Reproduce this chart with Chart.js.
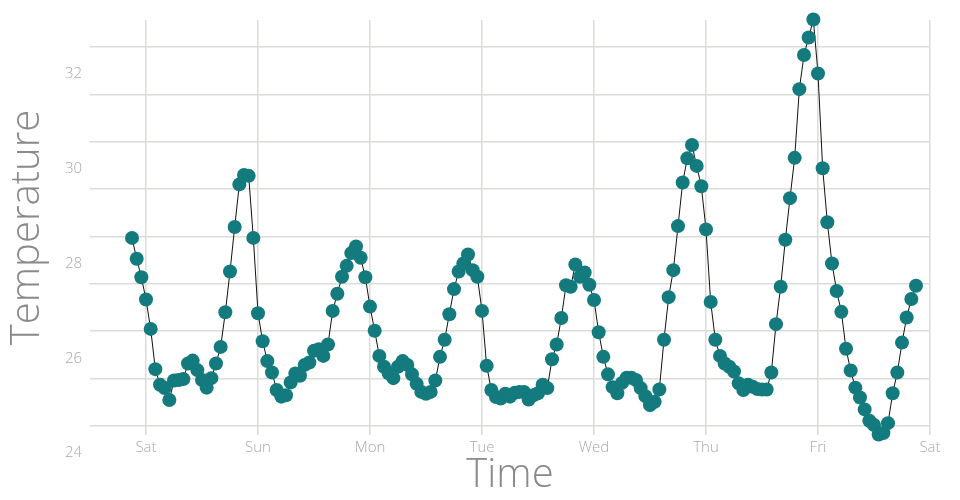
<!DOCTYPE html>
<html>
<head>
<meta charset="utf-8">
<script src="https://cdn.jsdelivr.net/npm/chart.js@4"></script>
<style>
  html, body { margin: 0; padding: 0; background: #fff; }
  #wrap { width: 960px; height: 500px; }
</style>
</head>
<body>
<div id="wrap"><canvas id="chart" width="960" height="500"></canvas></div>
<script>
// hourly readings, first one is 3 hours before Saturday 00:00
const FIRST_HOUR = -3;
const TEMPS = [
  27.97, 27.53, 27.14,
  26.67, 26.05, 25.20, 24.87, 24.80, 24.55, 24.96, 24.97, 24.99, 25.32, 25.38, 25.18,
  24.97, 24.81, 25.01, 25.32, 25.67, 26.40, 27.26, 28.20, 29.10, 29.30, 29.28, 27.97,
  26.38, 25.79, 25.37, 25.13, 24.76, 24.62, 24.65, 24.92, 25.11, 25.06, 25.29, 25.34,
  25.59, 25.62, 25.48, 25.72, 26.43, 26.79, 27.15, 27.38, 27.65, 27.79, 27.55, 27.14,
  26.52, 26.01, 25.48, 25.25, 25.11, 25.01, 25.25, 25.37, 25.29, 25.09, 24.89, 24.72,
  24.68, 24.72, 24.96, 25.46, 25.82, 26.36, 26.89, 27.26, 27.43, 27.62, 27.29, 27.15,
  26.43, 25.27, 24.76, 24.61, 24.58, 24.68, 24.62, 24.70, 24.72, 24.72, 24.56, 24.65,
  24.69, 24.87, 24.80, 25.41, 25.72, 26.28, 26.97, 26.94, 27.41, 27.15, 27.24, 26.98,
  26.66, 25.98, 25.46, 25.09, 24.82, 24.69, 24.91, 25.02, 25.02, 24.97, 24.80, 24.63,
  24.44, 24.51, 24.77, 25.82, 26.72, 27.29, 28.22, 29.14, 29.65, 29.93, 29.49, 29.06,
  28.15, 26.62, 25.82, 25.48, 25.32, 25.25, 25.15, 24.90, 24.76, 24.87, 24.83, 24.78,
  24.77, 24.77, 25.13, 26.15, 26.94, 27.93, 28.81, 29.66, 31.11, 31.83, 32.20, 32.58,
  31.44, 29.44, 28.30, 27.43, 26.85, 26.41, 25.63, 25.17, 24.81, 24.60, 24.35, 24.11,
  24.02, 23.82, 23.85, 24.06, 24.69, 25.13, 25.76, 26.29, 26.68, 26.96
];

const DAY_HOURS = [0, 24, 48, 72, 96, 120, 144, 168];
const DAY_LABELS = ['Sat', 'Sun', 'Mon', 'Tue', 'Wed', 'Thu', 'Fri', 'Sat'];
const Y_TICKS = [24, 25, 26, 27, 28, 29, 30, 31, 32];
const Y_LABELED = [24, 26, 28, 30, 32];

const FONT = '"Open Sans", Lato, sans-serif';
const GRID = '#dcdcd8';

const points = TEMPS.map((t, i) => ({ x: FIRST_HOUR + i, y: t }));

new Chart(document.getElementById('chart').getContext('2d'), {
  type: 'line',
  data: {
    datasets: [{
      data: points,
      borderColor: '#111111',
      borderWidth: 1,
      pointRadius: 7,
      pointHoverRadius: 7,
      pointBorderWidth: 0,
      pointBackgroundColor: '#137a7e',
      tension: 0,
      clip: false
    }]
  },
  options: {
    responsive: false,
    animation: false,
    layout: { padding: { top: 20, right: 30, left: 0, bottom: 0 } },
    plugins: { legend: { display: false }, tooltip: { enabled: false } },
    scales: {
      x: {
        type: 'linear',
        min: -12,
        max: 168,
        afterBuildTicks: (scale) => { scale.ticks = DAY_HOURS.map((v) => ({ value: v })); },
        afterFit: (scale) => { scale.height = 65; },
        border: { display: false },
        grid: { color: GRID, lineWidth: 1.5, drawTicks: false },
        ticks: {
          autoSkip: false,
          maxRotation: 0,
          padding: 4,
          color: '#a8a8a8',
          font: { family: FONT, size: 15, weight: '300' },
          callback: (value) => DAY_LABELS[DAY_HOURS.indexOf(value)]
        },
        title: {
          display: true,
          text: 'Time',
          color: '#8a8a8a',
          font: { family: FONT, size: 40, weight: '300', lineHeight: 1 },
          padding: { top: 0, bottom: 4 }
        }
      },
      y: {
        min: 23.81,
        max: 32.57,
        afterBuildTicks: (scale) => { scale.ticks = Y_TICKS.map((v) => ({ value: v })); },
        afterFit: (scale) => { scale.width = 90; },
        border: { display: false },
        grid: { color: GRID, lineWidth: 1.5, drawTicks: false },
        ticks: {
          padding: 8,
          labelOffset: 27,
          color: '#a8a8a8',
          font: { family: FONT, size: 15, weight: '300' },
          callback: (value) => (Y_LABELED.includes(value) ? String(value) : '')
        },
        title: {
          display: true,
          text: 'Temperature',
          color: '#8a8a8a',
          font: { family: FONT, size: 40, weight: '300', lineHeight: 1 },
          padding: { top: 8, bottom: 0 }
        }
      }
    }
  }
});
</script>
</body>
</html>
